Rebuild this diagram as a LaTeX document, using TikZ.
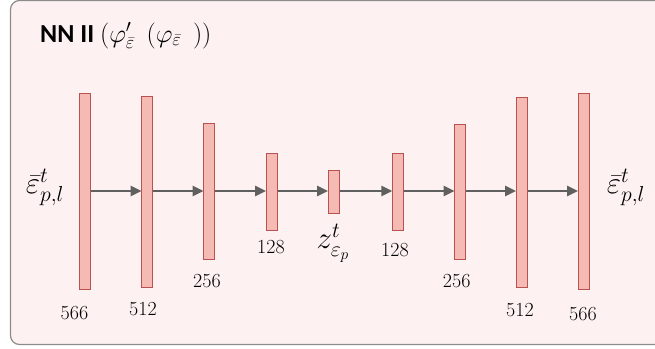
\RequirePackage{fix-cm}
\documentclass[tikz,border=0pt]{standalone}
\usepackage{fontspec}
\setsansfont{Carlito}
\usetikzlibrary{arrows.meta}
\definecolor{boxfill}{HTML}{FDF2F1}
\definecolor{boxline}{HTML}{8C8C8C}
\definecolor{barfill}{HTML}{F5BAB4}
\definecolor{barline}{HTML}{B9524E}
\definecolor{arr}{HTML}{606060}
\tikzset{
  layer/.style={draw=barline, fill=barfill, line width=1pt, minimum width=11pt, inner sep=0pt},
  flow/.style={draw=arr, line width=2.5pt, -{Triangle[length=11pt,width=10pt]}, shorten >=-0.5pt},
  num/.style={font=\fontsize{20}{24}\selectfont, inner sep=0pt},
  mlab/.style={font=\fontsize{31}{36}\selectfont, inner sep=0pt}
}
\begin{document}
\begin{tikzpicture}[x=1pt,y=-1pt]
\useasboundingbox (0,0) rectangle (655,348);
\begin{scope}
\clip (0,0) rectangle (655,348);
\draw[boxline, fill=boxfill, line width=1.2pt, rounded corners=9pt] (10.5,0.5) rectangle (680,344.5);
\end{scope}
\node[anchor=base west, inner sep=0pt, font=\sffamily\bfseries\fontsize{26}{30}\selectfont] (title) at (40,42)
  {NN II $(\varphi'_{\bar\varepsilon}\ \ (\varphi_{\bar\varepsilon}\ \ ))$};
% layers
\node[layer, minimum height=196pt] (b1) at (85,191) {};
\node[layer, minimum height=191pt] (b2) at (147,191.5) {};
\node[layer, minimum height=136pt] (b3) at (209,191) {};
\node[layer, minimum height=77pt] (b4) at (271.5,191.5) {};
\node[layer, minimum height=43pt] (b5) at (333.7,191.5) {};
\node[layer, minimum height=77pt] (b6) at (397.8,191.5) {};
\node[layer, minimum height=135pt] (b7) at (460,191.5) {};
\node[layer, minimum height=190pt] (b8) at (521.7,192) {};
\node[layer, minimum height=196pt] (b9) at (583.5,191) {};
% arrows
\foreach \a/\b in {b1/b2,b2/b3,b3/b4,b4/b5,b5/b6,b6/b7,b7/b8,b8/b9}
  \draw[flow] (\a.east |- 0,191) -- (\b.west |- 0,191);
% labels
\node[mlab] (lin) at (45,187) {$\bar\varepsilon^{t}_{p,l}$};
\node[mlab] (lout) at (626,187) {$\bar\varepsilon^{t}_{p,l}$};
\node[mlab] (lz) at (333,243) {$z^{t}_{\varepsilon_p}$};
\node[num] (n1) at (74.5,313) {566};
\node[num] (n2) at (143,309) {512};
\node[num] (n3) at (207,281) {256};
\node[num] (n4) at (271,247) {128};
\node[num] (n6) at (395,250) {128};
\node[num] (n7) at (456.7,281.5) {256};
\node[num] (n8) at (520,310) {512};
\node[num] (n9) at (583,313.7) {566};
\end{tikzpicture}
\end{document}
